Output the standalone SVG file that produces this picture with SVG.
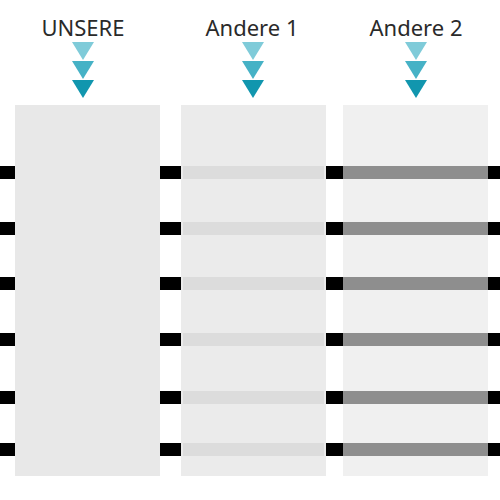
<svg xmlns="http://www.w3.org/2000/svg" width="500" height="500" viewBox="0 0 500 500">
<style>
.lbl{font-family:"Noto Sans","Open Sans",sans-serif;font-size:22px;fill:#2a2a2a;text-anchor:middle}
.stub{fill:#000}
.t1{fill:#7fcbd9}.t2{fill:#46b2c6}.t3{fill:#1196ae}
</style>
<defs>
<g id="arrows">
<polygon class="t1" points="-11,42 11,42 0,60"/>
<polygon class="t2" points="-11,61 11,61 0,79"/>
<polygon class="t3" points="-11,80 11,80 0,98"/>
</g>
</defs>
<rect width="500" height="500" fill="#fff"/>
<g id="connectors">
<g class="stub">
<rect x="0" y="166" width="15" height="13"/><rect x="160" y="166" width="21" height="13"/><rect x="326" y="166" width="17" height="13"/><rect x="488" y="166" width="12" height="13"/>
<rect x="0" y="222" width="15" height="13"/><rect x="160" y="222" width="21" height="13"/><rect x="326" y="222" width="17" height="13"/><rect x="488" y="222" width="12" height="13"/>
<rect x="0" y="277" width="15" height="13"/><rect x="160" y="277" width="21" height="13"/><rect x="326" y="277" width="17" height="13"/><rect x="488" y="277" width="12" height="13"/>
<rect x="0" y="333" width="15" height="13"/><rect x="160" y="333" width="21" height="13"/><rect x="326" y="333" width="17" height="13"/><rect x="488" y="333" width="12" height="13"/>
<rect x="0" y="391" width="15" height="13"/><rect x="160" y="391" width="21" height="13"/><rect x="326" y="391" width="17" height="13"/><rect x="488" y="391" width="12" height="13"/>
<rect x="0" y="443" width="15" height="13"/><rect x="160" y="443" width="21" height="13"/><rect x="326" y="443" width="17" height="13"/><rect x="488" y="443" width="12" height="13"/>
</g>
</g>
<g id="col1">
<text class="lbl" x="83" y="36">UNSERE</text>
<use href="#arrows" x="83"/>
<rect x="15" y="105" width="145" height="371" fill="#e8e8e8"/>
</g>
<g id="col2">
<text class="lbl" x="252" y="36">Andere 1</text>
<use href="#arrows" x="253"/>
<rect x="181" y="105" width="145" height="371" fill="#ebebeb"/>
<g fill="#dcdcdc">
<rect x="183" y="166" width="141" height="13"/><rect x="183" y="222" width="141" height="13"/><rect x="183" y="277" width="141" height="13"/><rect x="183" y="333" width="141" height="13"/><rect x="183" y="391" width="141" height="13"/><rect x="183" y="443" width="141" height="13"/>
</g>
</g>
<g id="col3">
<text class="lbl" x="416" y="36">Andere 2</text>
<use href="#arrows" x="416"/>
<rect x="343" y="105" width="145" height="371" fill="#f0f0f0"/>
<g fill="#8e8e8e">
<rect x="343" y="166" width="145" height="13"/><rect x="343" y="222" width="145" height="13"/><rect x="343" y="277" width="145" height="13"/><rect x="343" y="333" width="145" height="13"/><rect x="343" y="391" width="145" height="13"/><rect x="343" y="443" width="145" height="13"/>
</g>
</g>
</svg>
